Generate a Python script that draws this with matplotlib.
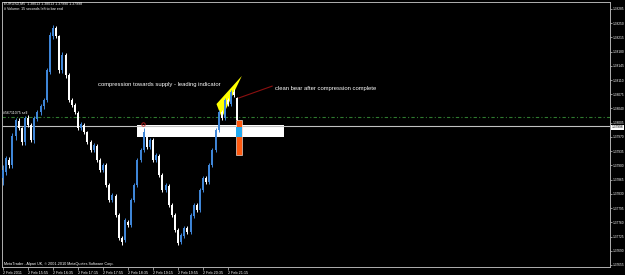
import matplotlib
matplotlib.use("Agg")
import matplotlib.pyplot as plt
from matplotlib.patches import Polygon, Rectangle

# EURUSD M5 candles, bar 0 = 2 Feb 15:15
opens = [1.37869, 1.37884, 1.37913, 1.37901, 1.37972, 1.38009, 1.37992, 1.37958, 1.38017, 1.38000,
         1.37963, 1.38014, 1.38032, 1.38046, 1.38061, 1.38130, 1.38218, 1.38238, 1.38218, 1.38135,
         1.38172, 1.38123, 1.38061, 1.38049, 1.38029, 1.37992, 1.38000, 1.37982, 1.37958, 1.37938,
         1.37948, 1.37913, 1.37889, 1.37901, 1.37852, 1.37815, 1.37825, 1.37778, 1.37722, 1.37717,
         1.37761, 1.37754, 1.37815, 1.37852, 1.37913, 1.37938, 1.37980, 1.37945, 1.37963, 1.37913,
         1.37923, 1.37877, 1.37840, 1.37849, 1.37803, 1.37778, 1.37741, 1.37712, 1.37726, 1.37746,
         1.37736, 1.37776, 1.37803, 1.37790, 1.37840, 1.37869, 1.37859, 1.37901, 1.37938, 1.37987,
         1.38032, 1.38017, 1.38061, 1.38051, 1.38081, 1.38066]
closes = [1.37889, 1.37918, 1.37901, 1.37972, 1.38012, 1.37992, 1.37958, 1.38017, 1.38000, 1.37963,
          1.38017, 1.38032, 1.38046, 1.38061, 1.38135, 1.38221, 1.38238, 1.38218, 1.38135, 1.38172,
          1.38123, 1.38061, 1.38049, 1.38032, 1.37992, 1.38002, 1.37982, 1.37958, 1.37938, 1.37950,
          1.37913, 1.37889, 1.37901, 1.37852, 1.37815, 1.37827, 1.37778, 1.37722, 1.37712, 1.37766,
          1.37754, 1.37815, 1.37852, 1.37913, 1.37938, 1.37982, 1.37945, 1.37963, 1.37913, 1.37926,
          1.37877, 1.37840, 1.37852, 1.37803, 1.37778, 1.37741, 1.37709, 1.37729, 1.37746, 1.37736,
          1.37778, 1.37803, 1.37790, 1.37840, 1.37869, 1.37859, 1.37901, 1.37938, 1.37987, 1.38032,
          1.38017, 1.38061, 1.38051, 1.38081, 1.38073, 1.38012]
highs = [1.37901, 1.37923, 1.37920, 1.37980, 1.38017, 1.38017, 1.37995, 1.38022, 1.38024, 1.38005,
         1.38022, 1.38037, 1.38051, 1.38066, 1.38140, 1.38228, 1.38246, 1.38243, 1.38221, 1.38180,
         1.38177, 1.38128, 1.38066, 1.38054, 1.38034, 1.38007, 1.38005, 1.37985, 1.37963, 1.37955,
         1.37953, 1.37918, 1.37906, 1.37906, 1.37857, 1.37832, 1.37830, 1.37783, 1.37727, 1.37771,
         1.37766, 1.37820, 1.37857, 1.37918, 1.37943, 1.37992, 1.37985, 1.37968, 1.37968, 1.37931,
         1.37928, 1.37882, 1.37857, 1.37854, 1.37808, 1.37783, 1.37746, 1.37734, 1.37751, 1.37751,
         1.37783, 1.37808, 1.37808, 1.37845, 1.37874, 1.37874, 1.37906, 1.37943, 1.37992, 1.38037,
         1.38037, 1.38066, 1.38066, 1.38086, 1.38088, 1.38068]
lows = [1.37852, 1.37877, 1.37894, 1.37894, 1.37963, 1.37987, 1.37950, 1.37950, 1.37995, 1.37958,
        1.37955, 1.38009, 1.38024, 1.38039, 1.38056, 1.38125, 1.38210, 1.38213, 1.38128, 1.38128,
        1.38115, 1.38056, 1.38044, 1.38027, 1.37987, 1.37987, 1.37977, 1.37953, 1.37933, 1.37933,
        1.37908, 1.37884, 1.37884, 1.37847, 1.37810, 1.37810, 1.37773, 1.37717, 1.37705, 1.37712,
        1.37749, 1.37749, 1.37810, 1.37847, 1.37908, 1.37933, 1.37940, 1.37940, 1.37908, 1.37908,
        1.37872, 1.37835, 1.37835, 1.37798, 1.37773, 1.37736, 1.37705, 1.37707, 1.37722, 1.37731,
        1.37731, 1.37771, 1.37785, 1.37785, 1.37835, 1.37854, 1.37854, 1.37896, 1.37933, 1.37982,
        1.38012, 1.38012, 1.38046, 1.38046, 1.38068, 1.38009]

tick_bars = [0, 8, 16, 24, 32, 40, 48, 56, 64, 72]
tick_labels = ["2 Feb 2011", "2 Feb 15:55", "2 Feb 16:35", "2 Feb 17:15", "2 Feb 17:55",
               "2 Feb 18:35", "2 Feb 19:15", "2 Feb 19:55", "2 Feb 20:35", "2 Feb 21:15"]
price_ticks = [1.38285, 1.38250, 1.38215, 1.38180, 1.38145, 1.38110, 1.38075, 1.38040, 1.38005,
               1.37970, 1.37935, 1.37900, 1.37865, 1.37830, 1.37795, 1.37760, 1.37725, 1.37690, 1.37655]

bid = 1.37998
order_price = 1.38019
order_label = "#56711075 sell"
header1 = "EURUSD,M5  1.38013 1.38013 1.37990 1.37998"
header2 = "# Volume: 15 seconds left to bar end"
footer = "MetaTrader - Alpari UK, \u00a9 2001-2010 MetaQuotes Software Corp."

# drawn objects
zone_x = [42.9, 89.9]
zone_y = [1.37970, 1.37999]
wedge_x = [68.3, 76.4, 70.0]
wedge_y = [1.38051, 1.38120, 1.38017]
trend_x = [75.5, 86.1]
trend_y = [1.38066, 1.38095]
box_x = [74.6, 76.5]
box_y = [1.37926, 1.38012]
box_mid_y = [1.37970, 1.37995]
arrow_x, arrow_y = 44.8, 1.38002
note1 = "compression towards supply - leading indicator"
note1_x, note1_y = 30.4, 1.38098
note2 = "clean bear after compression complete"
note2_x, note2_y = 87.0, 1.38090

up_col = "#3f86d8"
dn_col = "#ffffff"
fg = "#d0d0d0"
plt.rcParams['font.family'] = ['Liberation Sans', 'DejaVu Sans']

fig = plt.figure(figsize=(6.25, 2.75), dpi=100, facecolor="black")
ax = fig.add_axes([2 / 625, 8 / 275, 608 / 625, 265 / 275], facecolor="black")

# zone and drawings behind candles
ax.add_patch(Rectangle((zone_x[0], zone_y[0]), zone_x[1] - zone_x[0], zone_y[1] - zone_y[0],
                       facecolor="white", edgecolor="none", zorder=1))
ax.add_patch(Polygon(list(zip(wedge_x, wedge_y)), closed=True, facecolor="#ffff00",
                     edgecolor="none", zorder=1))
ax.axhline(order_price, color="#2f7a2f", lw=0.8, ls=(0, (3, 2, 1, 2)), zorder=1)
ax.axhline(bid, color="#c0c0c0", lw=0.8, zorder=1)

for i in range(len(opens)):
    o, c, h, l = opens[i], closes[i], highs[i], lows[i]
    col = up_col if c >= o else dn_col
    ax.vlines(i, l, h, color=col, lw=0.7, zorder=3)
    ax.bar(i, max(abs(c - o), 0.00002), width=0.6, bottom=min(o, c), color=col,
           edgecolor="none", zorder=3)

ax.add_patch(Rectangle((box_x[0], box_y[0]), box_x[1] - box_x[0], box_y[1] - box_y[0],
                       facecolor="#ff5a10", edgecolor="white", lw=0.4, zorder=4))
ax.add_patch(Rectangle((box_x[0], box_mid_y[0]), box_x[1] - box_x[0], box_mid_y[1] - box_mid_y[0],
                       facecolor="#22aaf0", edgecolor="none", zorder=5))
ax.plot(trend_x, trend_y, color="#8b1010", lw=0.8, zorder=4)
ax.plot(arrow_x, arrow_y, marker="o", ms=2.5, mfc="none", mec="#c02020", mew=0.6, zorder=4)

ax.text(note1_x, note1_y, note1, color="white", fontsize=4.2, va="center", ha="left")
ax.text(note2_x, note2_y, note2, color="white", fontsize=4.2, va="center", ha="left")
ax.text(-0.1, order_price + 0.00004, order_label, color="white", fontsize=2.6, va="bottom", ha="left")

ax.set_xlim(-0.32, 194.2)
ax.set_ylim(1.37650, 1.38302)

ax.yaxis.tick_right()
ax.set_yticks(price_ticks)
ax.set_yticklabels([f"{p:.5f}" for p in price_ticks])
ax.set_xticks(tick_bars)
ax.set_xticklabels(tick_labels, ha="left")
ax.tick_params(colors=fg, labelcolor="white", labelsize=2.7, length=2, width=0.5, pad=1)
ax.tick_params(axis="y", labelsize=2.3, length=1.5, pad=0.6)
for s in ax.spines.values():
    s.set_color("#b0b0b0")
    s.set_linewidth(0.7)

# current price marker on scale
ax.text(1.003, bid - 0.00004, f"{bid:.5f}", transform=ax.get_yaxis_transform(), fontsize=2.3,
        color="black", va="center", ha="left",
        bbox=dict(facecolor="white", edgecolor="none", pad=0.4))

fig.text(4 / 625, 1 - 4 / 275, header1, color="white", fontsize=2.6, va="center", ha="left")
fig.text(4 / 625, 1 - 8.5 / 275, header2, color="white", fontsize=2.6, va="center", ha="left")
fig.text(4 / 625, 1 - 264 / 275, footer, color="white", fontsize=2.7, va="center", ha="left")

fig.savefig("out.png", dpi=100, facecolor="black")
